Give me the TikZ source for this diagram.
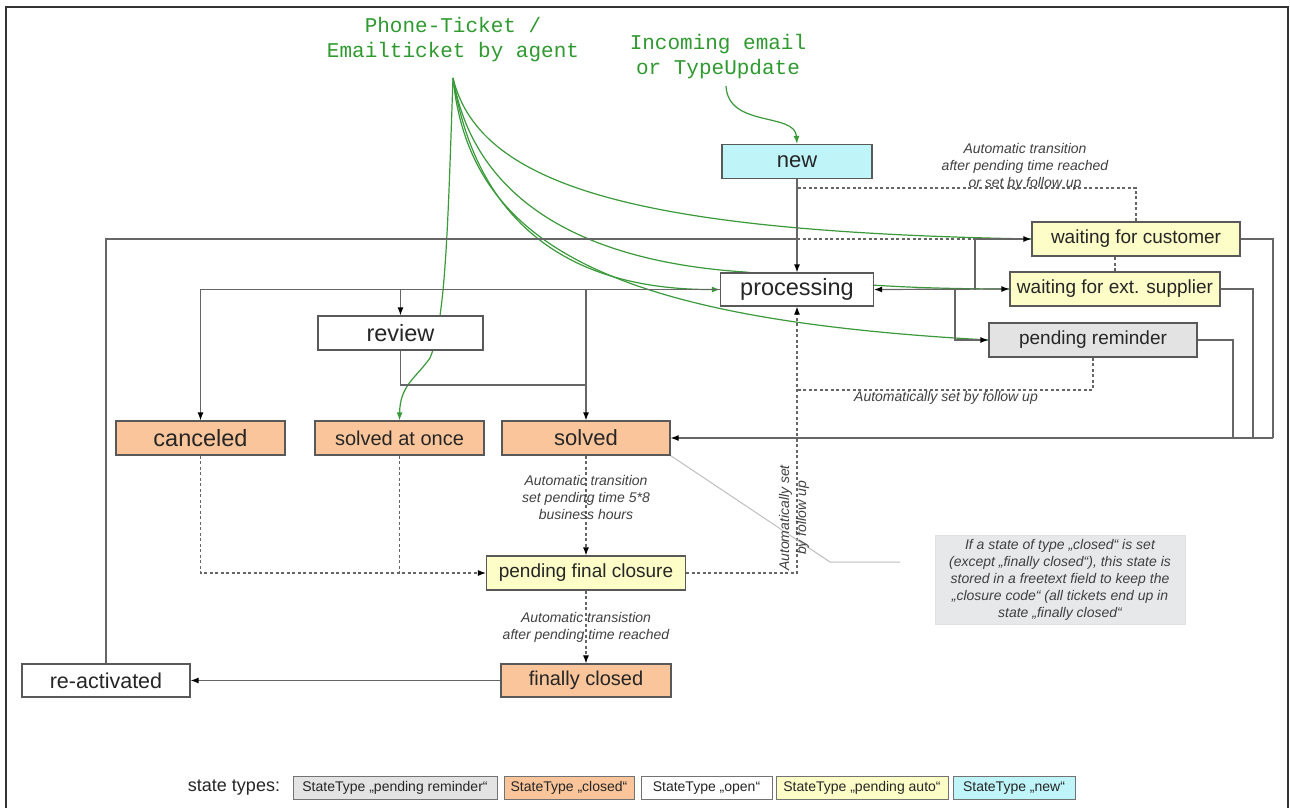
\documentclass[tikz,border=0pt]{standalone}
\usepackage{fontspec}
\setmainfont{Liberation Sans}
\newfontfamily\monof{Liberation Mono}
\usetikzlibrary{arrows.meta,backgrounds}
\definecolor{orangeF}{HTML}{FAC59A}
\definecolor{yellowF}{HTML}{FDFDC8}
\definecolor{cyanF}{HTML}{BFF4F8}
\definecolor{grayF}{HTML}{E3E3E3}
\definecolor{noteF}{HTML}{E6E8EA}
\definecolor{greenT}{HTML}{2F9A2F}
\definecolor{greenL}{HTML}{3A9A3A}
\newcommand\fsz[2]{\fontsize{#1}{#2}\selectfont}
\tikzset{
  st/.style={draw=black!65, line width=1.2pt, minimum height=34pt, inner sep=0pt, text=black!85, font=\fsz{19}{22}},
  openst/.style={st, fill=white},
  closedst/.style={st, fill=orangeF},
  autost/.style={st, fill=yellowF},
  remst/.style={st, fill=grayF},
  newst/.style={st, fill=cyanF},
  conn/.style={draw=black!60, line width=1.2pt},
  arr/.style={-{Latex[length=8pt,width=6pt,color=black]}},
  dl/.style={draw=black!60, line width=1.1pt, dash pattern=on 3pt off 2.5pt},
  gr/.style={draw=greenL, line width=1.2pt},
  garr/.style={-{Latex[length=8pt,width=6pt]}},
  lab/.style={font=\fsz{14}{17}\itshape, text=black!75, align=center, inner sep=0pt},
  leg/.style={draw=black!55, line width=1pt, minimum height=23pt, inner sep=0pt, font=\fsz{14}{16}, text=black!85},
  gtext/.style={font=\monof\fsz{21}{25}, text=greenT, align=center, inner sep=0pt},
}
\begin{document}
\begin{tikzpicture}[x=1pt,y=-1pt]
\useasboundingbox (0,0) rectangle (1290,808);

% green source texts
\node[gtext] (agent) at (453,40) {Phone-Ticket /\\Emailticket by agent};
\node[gtext] (incoming) at (718,57) {Incoming email\\or TypeUpdate};
\coordinate (src) at (453,78);
\coordinate (isrc) at (726,86);

% states
\node[newst, minimum width=150pt, font=\fsz{22}{26}] (new) at (797,161.5) {new};
\node[openst, minimum width=153pt, minimum height=33pt, font=\fsz{23.5}{27}] (processing) at (797,289.5) {processing};
\node[autost, minimum width=208pt] (wcust) at (1136,239) {waiting for customer};
\node[autost, minimum width=210pt] (wsupp) at (1115,289) {waiting for ext. supplier};
\node[remst, minimum width=208pt] (prem) at (1093,340) {pending reminder};
\node[openst, minimum width=165pt, font=\fsz{23.5}{27}] (review) at (400.5,333) {review};
\node[closedst, minimum width=169pt, font=\fsz{23.5}{27}] (canceled) at (200.5,438) {canceled};
\node[closedst, minimum width=169pt, font=\fsz{20}{24}] (sonce) at (399.5,438) {solved at once};
\node[closedst, minimum width=168pt, font=\fsz{22}{26}] (solved) at (586,438) {solved};
\node[autost, minimum width=199pt] (pfc) at (586,573) {pending final closure};
\node[closedst, minimum width=170pt, minimum height=33pt, font=\fsz{20}{24}] (fclosed) at (586,680.5) {finally closed};
\node[openst, minimum width=168pt, minimum height=33pt, font=\fsz{21.5}{25}] (react) at (106,680.5) {re-activated};

% note box
\node[fill=noteF, draw=black!12, line width=0.8pt, minimum width=250pt, minimum height=89pt, inner sep=0pt,
      font=\fsz{14}{17}\itshape, text=black!75, align=center] (note) at (1060,580)
  {If a state of type „closed“ is set\\(except „finally closed“), this state is\\stored in a freetext field to keep the\\„closure code“ (all tickets end up in\\state „finally closed“};

% labels
\node[lab] (l1) at (1025,167) {Automatic transition\\after pending time reached\\or set by follow up};
\node[lab] (l2) at (946,398) {Automatically set by follow up};
\node[lab] (l3) at (586,497) {Automatic transition\\set pending time 5*8\\business hours};
\node[lab] (l4) at (586,627) {Automatic transistion\\after pending time reached};
\node[lab, rotate=90] (l5) at (794,518) {Automatically set\\by follow up};

% legend
\node[font=\fsz{18}{20}, text=black!85, inner sep=0pt] (stlab) at (234,788) {state types:};
\node[leg, fill=grayF, minimum width=204pt] (lg1) at (395,788) {StateType „pending reminder“};
\node[leg, fill=orangeF, minimum width=130pt] (lg2) at (569,788) {StateType „closed“};
\node[leg, fill=white, minimum width=131pt] (lg3) at (706.5,788) {StateType „open“};
\node[leg, fill=yellowF, minimum width=172pt] (lg4) at (862,788) {StateType „pending auto“};
\node[leg, fill=cyanF, minimum width=122pt] (lg5) at (1014,788) {StateType „new“};

% frame
\draw[line width=2pt, black!80] (6,808) -- (6,7) -- (1288,7) -- (1288,808);

\coordinate (j1) at (975,289.5);
\coordinate (j2) at (955,289.5);
\coordinate (j3) at (797,239);
\coordinate (j4) at (975,239);
\coordinate (rj) at (586,385);
\coordinate (r1) at (1273,438);
\coordinate (r2) at (1253,438);
\coordinate (r3) at (1233,438);
\coordinate (d1) at (797,188);
\coordinate (d2) at (797,390);
\coordinate (c1) at (830,562);
\coordinate (c2) at (900,562);

\begin{scope}[on background layer]
\fill[white] (0,0) rectangle (1290,808);

% green curves
\draw[gr, garr] (isrc) .. controls (728,128) and (795,112) .. (new.north);
\draw[gr, garr] (src) .. controls (448,220) and (446,320) .. (430,358) .. controls (416,378) and (400,385) .. (sonce.north);
\draw[gr] (src) .. controls (480,190) and (650,232) .. (wcust.west);
\draw[gr, garr] (src) .. controls (475,215) and (560,290) .. (processing.west);
\draw[gr] (src) .. controls (475,205) and (590,262) .. (745,272) .. controls (800,278) and (860,289) .. (wsupp.west);
\draw[gr] (src) .. controls (470,250) and (620,320) .. (prem.west);

% solid connectors
\draw[conn, arr] (new.south) -- (processing.north);
\draw[conn, arr] (processing.west) -| (canceled.north);
\draw[conn, arr] (processing.west) -| (review.north);
\draw[conn, arr] (processing.west) -| (solved.north);
\draw[conn] (review.south) |- (rj);
\draw[conn, {Latex[length=8pt,width=6pt,color=black]}-{Latex[length=8pt,width=6pt,color=black]}] (processing.east) -- (wsupp.west);
\draw[conn, arr] (j1) |- (wcust.west);
\draw[conn, arr] (j2) |- (prem.west);
\draw[conn] (react.north) |- (j3);
\draw[conn] (wcust.east) -| (r1);
\draw[conn] (wsupp.east) -| (r2);
\draw[conn] (prem.east) -| (r3);
\draw[conn, arr] (r1) -- (solved.east);
\draw[conn, arr] (fclosed.west) -- (react.east);

% dashed connectors
\draw[dl] (j3) -- (j4);
\draw[dl] (wsupp.north) -- (wsupp.north |- wcust.south);
\draw[dl] (wcust.north) |- (d1);
\draw[dl] (prem.south) |- (d2);
\draw[dl, arr] (pfc.east) -| (processing.south);
\draw[dl, arr] (canceled.south) |- (pfc.west);
\draw[dl] (sonce.south) -- (sonce.south |- pfc.west);
\draw[dl, arr] (solved.south) -- (pfc.north);
\draw[dl, arr] (pfc.south) -- (fclosed.north);

% callout line
\draw[black!25, line width=1pt] (solved.south east) -- (c1) -- (c2);
\end{scope}
\end{tikzpicture}
\end{document}
